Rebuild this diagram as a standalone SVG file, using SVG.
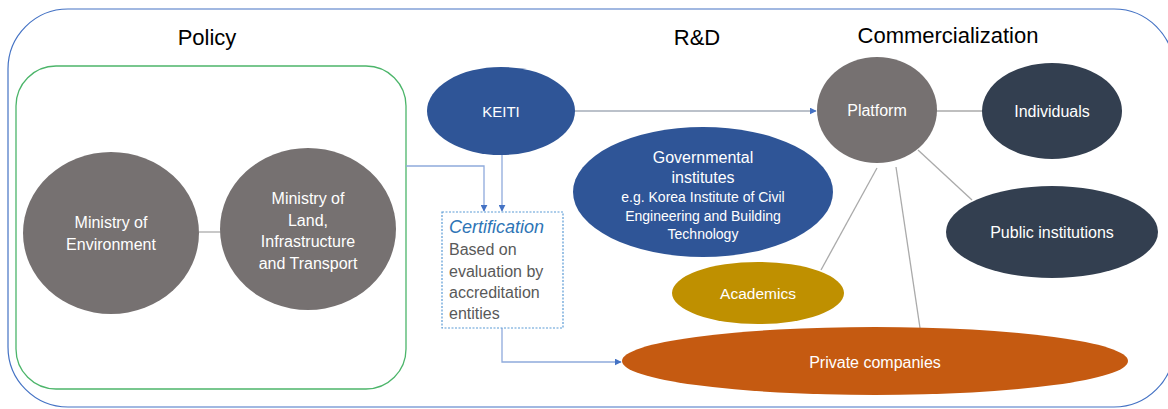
<svg xmlns="http://www.w3.org/2000/svg" width="1168" height="409" viewBox="0 0 1168 409">
<defs>
<style>
text{font-family:"Liberation Sans","Noto Sans",Arial,sans-serif;text-anchor:middle;dominant-baseline:central}
.title{font-size:22px;fill:#000}
.w{fill:#fff;font-size:16px}
.s{font-size:14px}
.gray{fill:#767171}
.conn{fill:none;stroke:#8faadc;stroke-width:1.3}
.gl{fill:none;stroke:#aaaaaa;stroke-width:1.3}
.cert{font-size:16px;fill:#595959;text-anchor:start}
</style>
<marker id="ah" viewBox="0 0 10 10" refX="9" refY="5" markerWidth="7" markerHeight="7" orient="auto" markerUnits="userSpaceOnUse">
<path d="M0,0 L10,5 L0,10 z" fill="#4472c4"/>
</marker>
</defs>
<rect width="1168" height="409" fill="#fff"/>
<rect x="8" y="9" width="1166" height="398" rx="60" ry="60" fill="none" stroke="#4472c4" stroke-width="1.2"/>
<text class="title" x="207" y="37">Policy</text>
<text class="title" x="697" y="37">R&amp;D</text>
<text class="title" x="948" y="35">Commercialization</text>
<rect x="16" y="66" width="390" height="323" rx="40" ry="40" fill="none" stroke="#4cb56a" stroke-width="1.3"/>

<g id="connectors">
<line class="gl" x1="199" y1="232" x2="221" y2="232"/>
<line x1="575" y1="111" x2="816" y2="111" stroke="#a5adb8" stroke-width="1.3" marker-end="url(#ah)"/>
<polyline class="conn" points="406,166 484,166 484,211" marker-end="url(#ah)"/>
<line class="conn" x1="502" y1="155" x2="502" y2="211" marker-end="url(#ah)"/>
<polyline class="conn" points="502,328 502,362 621,362" marker-end="url(#ah)"/>
<line class="gl" x1="936" y1="111" x2="983" y2="111"/>
<line class="gl" x1="918" y1="150" x2="972" y2="200"/>
<line class="gl" x1="877" y1="168" x2="821" y2="270"/>
<line class="gl" x1="896" y1="167" x2="920" y2="328"/>
</g>

<g id="ministry-environment">
<ellipse class="gray" cx="111" cy="233" rx="88" ry="81"/>
<text class="w" x="111" y="222">Ministry of</text>
<text class="w" x="111" y="244">Environment</text>
</g>
<g id="ministry-land">
<ellipse class="gray" cx="308" cy="229" rx="88" ry="81"/>
<text class="w" x="308" y="198">Ministry of</text>
<text class="w" x="308" y="220">Land,</text>
<text class="w" x="308" y="241">Infrastructure</text>
<text class="w" x="308" y="263">and Transport</text>
</g>
<g id="keiti">
<ellipse cx="501" cy="111" rx="74" ry="44" fill="#2f5597"/>
<text class="w" x="501" y="111" style="font-size:15px">KEITI</text>
</g>
<g id="certification">
<rect x="442" y="212" width="121" height="116" fill="#fff" stroke="#5b9bd5" stroke-width="1.2" stroke-dasharray="2,1.5"/>
<text x="449" y="227" style="font-size:18px;font-style:italic;fill:#2e75b6;text-anchor:start">Certification</text>
<text class="cert" x="449" y="249">Based on</text>
<text class="cert" x="449" y="271">evaluation by</text>
<text class="cert" x="449" y="292">accreditation</text>
<text class="cert" x="449" y="313">entities</text>
</g>
<g id="governmental">
<ellipse cx="703" cy="192" rx="130" ry="65" fill="#2f5597"/>
<text class="w" x="703" y="157">Governmental</text>
<text class="w" x="703" y="177">institutes</text>
<text class="w s" x="703" y="197">e.g. Korea Institute of Civil</text>
<text class="w s" x="703" y="216">Engineering and Building</text>
<text class="w s" x="703" y="234">Technology</text>
</g>
<g id="platform">
<ellipse class="gray" cx="877" cy="110" rx="60" ry="53"/>
<text class="w" x="877" y="110">Platform</text>
</g>
<g id="individuals">
<ellipse cx="1052" cy="111" rx="70" ry="48" fill="#333f50"/>
<text class="w" x="1052" y="111">Individuals</text>
</g>
<g id="public-institutions">
<ellipse cx="1052" cy="232" rx="106" ry="46" fill="#333f50"/>
<text class="w" x="1052" y="232">Public institutions</text>
</g>
<g id="academics">
<ellipse cx="758" cy="293" rx="86" ry="31" fill="#bf9000"/>
<text class="w" x="758" y="293" style="font-size:15.5px">Academics</text>
</g>
<g id="private-companies">
<ellipse cx="875" cy="361" rx="253" ry="34" fill="#c55a11"/>
<text class="w" x="875" y="362">Private companies</text>
</g>
</svg>
